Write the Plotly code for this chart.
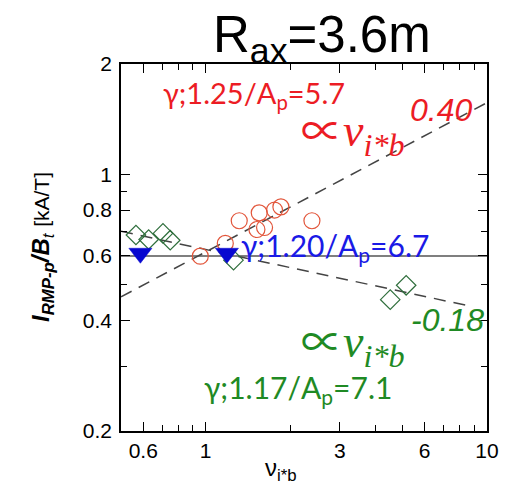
import plotly.graph_objects as go

# ---------------- data ----------------
circ_x = [0.957, 1.174, 1.316, 1.521, 1.55, 1.619, 1.757, 1.851, 2.386]
circ_y = [0.599, 0.649, 0.748, 0.708, 0.786, 0.717, 0.80, 0.816, 0.748]

dia_x = [0.565, 0.627, 0.705, 0.748, 1.256, 4.53, 5.16]
dia_y = [0.684, 0.665, 0.691, 0.662, 0.584, 0.456, 0.499]

tri_x = [0.586, 1.19]
tri_y = [0.61, 0.61]

ref_x = [0.5, 10]
ref_y = [0.6, 0.6]

red_fit_x = [0.5, 10]
red_fit_y = [0.464, 1.569]

green_fit_x = [0.5, 8.8]
green_fit_y = [0.70, 0.437]

x_tickvals = [0.6, 1, 3, 6, 10]
x_ticktext = ["0.6", "1", "3", "6", "10"]
x_minor = [0.7, 0.8, 0.9, 2, 4, 5, 7, 8, 9]
y_tickvals = [0.2, 0.4, 0.6, 0.8, 1, 2]
y_ticktext = ["0.2", "0.4", "0.6", "0.8", "1", "2"]
y_minor = [0.3, 0.5, 0.7, 0.9]

# ---------------- styling ----------------
RED = "#ec1c24"
CIRC = "#e2553a"
BLUE = "#1a1ae6"
TRI = "#0808d0"
GREEN = "#1f8a24"
DIA = "#2f6e3c"
DASH = "#444444"

W, H = 513, 488
L, T, R, B = 121, 64, 487, 431


def px(x):
    return (x - L) / (R - L)


def py(y):
    return (B - y) / (B - T)


fig = go.Figure()

fig.add_trace(go.Scatter(x=ref_x, y=ref_y, mode="lines",
                         line=dict(color="#555555", width=1.5), showlegend=False))
fig.add_trace(go.Scatter(x=red_fit_x, y=red_fit_y, mode="lines",
                         line=dict(color=DASH, width=1.5, dash="12px,8px"), showlegend=False))
fig.add_trace(go.Scatter(x=green_fit_x, y=green_fit_y, mode="lines",
                         line=dict(color=DASH, width=1.5, dash="12px,8px"), showlegend=False))

fig.add_trace(go.Scatter(x=circ_x, y=circ_y, mode="markers",
                         marker=dict(symbol="circle-open", size=16, color=CIRC,
                                     line=dict(color=CIRC, width=1.2)),
                         showlegend=False))
fig.add_trace(go.Scatter(x=dia_x, y=dia_y, mode="markers",
                         marker=dict(symbol="diamond-open", size=15, color=DIA,
                                     line=dict(color=DIA, width=1.2)),
                         showlegend=False))
fig.add_trace(go.Scatter(x=tri_x, y=tri_y, mode="markers",
                         marker=dict(symbol="triangle-down", size=20, color=TRI,
                                     line=dict(color=TRI, width=0.5)),
                         showlegend=False))

SANS = "Lato, Liberation Sans, Arial, sans-serif"
ARIAL = "Liberation Sans, Arial, sans-serif"
SERIF = "Liberation Serif, DejaVu Serif, serif"
PROP = "<span style='font-family:Noto Sans CJK JP;font-size:42px'>∝</span>"

annotations = [
    # title
    dict(text="R<sub>ax</sub>=3.6m", x=px(322), y=py(38), xanchor="center", yanchor="middle",
         font=dict(family=ARIAL, size=51, color="black")),
    # red labels
    dict(text="γ;1.25/A<sub>p</sub>=5.7", x=px(161), y=py(94), xanchor="left", yanchor="middle",
         font=dict(family=SANS, size=29, color=RED)),
    dict(text=PROP + "<i>ν</i><sub><i>i*b</i></sub>", x=px(299), y=py(130), xanchor="left", yanchor="middle",
         font=dict(family=SERIF, size=46, color=RED)),
    dict(text="<i>0.40</i>", x=px(441), y=py(110), xanchor="center", yanchor="middle",
         font=dict(family=ARIAL, size=32, color=RED)),
    # blue label
    dict(text="γ;1.20/A<sub>p</sub>=6.7", x=px(239), y=py(247), xanchor="left", yanchor="middle",
         font=dict(family=SANS, size=30, color=BLUE)),
    # green labels
    dict(text="<i>-0.18</i>", x=px(447), y=py(320), xanchor="center", yanchor="middle",
         font=dict(family=ARIAL, size=32, color=GREEN)),
    dict(text=PROP + "<i>ν</i><sub><i>i*b</i></sub>", x=px(299), y=py(341), xanchor="left", yanchor="middle",
         font=dict(family=SERIF, size=46, color=GREEN)),
    dict(text="γ;1.17/A<sub>p</sub>=7.1", x=px(202), y=py(389), xanchor="left", yanchor="middle",
         font=dict(family=SANS, size=30, color=GREEN)),
    # axis titles
    dict(text="<b><i>I</i></b><sub><b><i>RMP-p</i></b></sub><b><i>/B</i></b><sub><i>t</i></sub>"
              " <span style='font-size:21px'>[kA/T]</span>",
         x=px(42), y=py(247), xanchor="center", yanchor="middle", textangle=-90,
         font=dict(family=ARIAL, size=24, color="black")),
    dict(text="ν<sub>i*b</sub>", x=px(281), y=py(470), xanchor="center", yanchor="middle",
         font=dict(family=ARIAL, size=24, color="black")),
]
for a in annotations:
    a.update(xref="paper", yref="paper", showarrow=False)

axis_common = dict(
    type="log", showgrid=False, zeroline=False,
    showline=True, linecolor="black", linewidth=1.5, mirror="allticks",
    ticks="inside", ticklen=9, tickwidth=1.3, tickcolor="black",
    tickfont=dict(family=ARIAL, size=21, color="black"),
)

fig.update_layout(
    width=W, height=H,
    margin=dict(l=L, r=W - R, t=T, b=H - B),
    paper_bgcolor="white", plot_bgcolor="white",
    xaxis=dict(**axis_common, range=[-0.30103, 1.0],
               tickmode="array", tickvals=x_tickvals, ticktext=x_ticktext,
               minor=dict(tickmode="array", tickvals=x_minor, ticks="inside",
                          ticklen=6, tickwidth=1.2, tickcolor="black")),
    yaxis=dict(**axis_common, range=[-0.69897, 0.30103],
               tickmode="array", tickvals=y_tickvals, ticktext=y_ticktext,
               ticklabelstandoff=3,
               minor=dict(tickmode="array", tickvals=y_minor, ticks="inside",
                          ticklen=6, tickwidth=1.2, tickcolor="black")),
    annotations=annotations,
)

fig.write_html("out.html", config={"displayModeBar": False},
               post_script="document.body.style.margin='0';document.body.style.overflow='hidden';")
